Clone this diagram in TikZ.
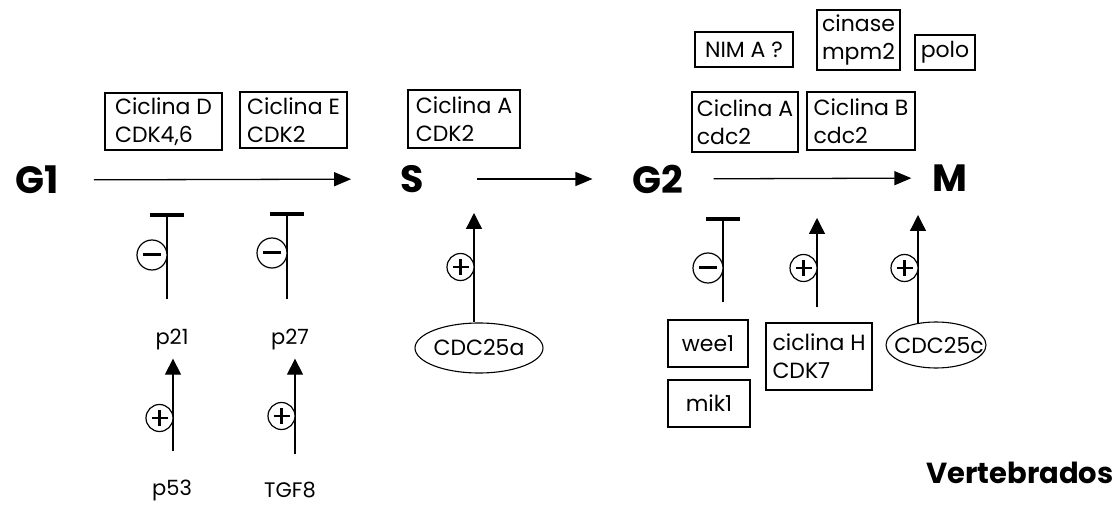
\documentclass[tikz,border=0pt]{standalone}
\usepackage{fontspec}
\setmainfont{Poppins}
\usepackage{tikz}
\usetikzlibrary{arrows.meta, shapes.geometric, positioning, calc}

\tikzset{
  phase/.style={font=\bfseries\fontsize{38}{38}\selectfont, inner sep=0pt},
  factor/.style={draw, line width=1.1pt, align=left, inner sep=2pt,
    font=\fontsize{22}{28}\selectfont},
  oval/.style={inner sep=0pt, font=\fontsize{22}{22}\selectfont},
  gene/.style={font=\fontsize{21}{21}\selectfont, inner sep=0pt},
  flow/.style={line width=1.3pt, -{Triangle[length=17pt,width=14pt]}},
  activ/.style={line width=1.3pt, -{Triangle[length=16pt,width=16pt]}},
  inhib/.style={line width=1.3pt, -{Bar[width=34pt,line width=4pt]}},
  possign/.pic={
    \draw[line width=1.2pt, fill=white] (0,0) circle (13.5);
    \draw[line width=2.6pt] (-8,0) -- (8,0) (0,-8) -- (0,8);
  },
  negsign/.pic={
    \draw[line width=1.2pt, fill=white] (0,0) circle (15);
    \draw[line width=3pt] (-9,0) -- (9,0);
  }
}

\begin{document}
\begin{tikzpicture}[x=1pt, y=-1pt]
  \useasboundingbox (0,0) rectangle (1119,510);

  % Cycle phases
  \node[phase] (G1) at (37,180) {G1};
  \node[phase] (S)  at (412,179) {S};
  \node[phase] (G2) at (658,179) {G2};
  \node[phase] (M)  at (950,178) {M};

  \draw[flow, shorten <=35pt, shorten >=49pt] (G1) -- (S);
  \draw[flow, shorten <=53pt, shorten >=40pt] (S) -- (G2);
  \draw[flow, shorten <=30pt, shorten >=21pt] (G2) -- (M);

  % Cyclin / kinase complexes above
  \node[factor, minimum width=117pt, minimum height=57pt] (cycD)  at (163.5,121.5) {Ciclina D\\CDK4,6};
  \node[factor, minimum width=107pt, minimum height=56pt] (cycE)  at (293.5,120)   {Ciclina E\\CDK2};
  \node[factor, minimum width=112pt, minimum height=58pt] (cycAS) at (464,119)     {Ciclina A\\CDK2};
  \node[factor, minimum width=98pt,  minimum height=35pt] (nima)  at (744,49.5)    {NIM A ?};
  \node[factor, minimum width=83pt,  minimum height=60pt] (mpm)   at (858.5,40)    {cinase\\mpm2};
  \node[factor, minimum width=60pt,  minimum height=35pt] (polo)  at (945,52.5)    {polo};
  \node[factor, minimum width=106pt, minimum height=60pt] (cycAc) at (745,122)     {Ciclina A\\cdc2};
  \node[factor, minimum width=108pt, minimum height=58pt] (cycBc) at (861,121)     {Ciclina B\\cdc2};

  % G1 inhibitors
  \node[gene] (p21)  at (172,340) {p21};
  \node[gene] (p27)  at (290,340) {p27};
  \node[gene] (p53)  at (172,490) {p53};
  \node[gene] (tgf)  at (290,490) {TGF8};

  \coordinate (t21) at (167,213);
  \coordinate (t27) at (287,212);
  \draw[inhib] ([xshift=-5pt,yshift=30pt]p21.north) -- (t21);
  \draw[inhib] ([xshift=-3pt,yshift=30pt]p27.north) -- (t27);
  \pic at (152,255) {negsign};
  \pic at (272,253) {negsign};

  \draw[activ] ([xshift=1pt,yshift=28pt]p53.north) -- ([xshift=1pt,yshift=-8pt]p21.south);
  \draw[activ] ([xshift=5pt,yshift=28pt]tgf.north) -- ([xshift=5pt,yshift=-8pt]p27.south);
  \pic at (159.5,418) {possign};
  \pic at (281.5,416) {possign};

  % S entry
  \node[oval] (c25a) at (479,348) {CDC25a};
  \draw[line width=1.1pt] (c25a) ellipse (64 and 25);
  \coordinate (tS) at (474,213);
  \draw[activ] ([xshift=-5pt,yshift=18pt]c25a.north) -- (tS);
  \pic at (460.5,267) {possign};

  % G2 / M regulators
  \node[factor, minimum width=80pt, minimum height=47pt, align=center] (wee) at (708,343.5) {wee1};
  \node[factor, minimum width=82pt, minimum height=47pt, align=center] (mik) at (709,403.5) {mik1};
  \node[factor, minimum width=106pt, minimum height=67pt] (cycH) at (819,356.5) {ciclina H\\CDK7};
  \node[oval] (c25c) at (939,346) {CDC25c};
  \draw[line width=1.1pt] (936,345) ellipse (50 and 23);

  \coordinate (tW) at (723,217);
  \coordinate (tH) at (817,218);
  \coordinate (tC) at (918,215);
  \draw[inhib] ([xshift=15pt,yshift=17pt]wee.north) -- (tW);
  \draw[activ] ([yshift=15pt]cycH.north -| tH) -- (tH);
  \draw[activ] ([yshift=15pt]c25c.north -| tC) -- (tC);
  \pic at (708,268) {negsign};
  \pic at (803.5,268) {possign};
  \pic at (904.5,268) {possign};

  \node[font=\bfseries\fontsize{29}{29}\selectfont, inner sep=0pt] (vert) at (1020,473) {Vertebrados};
\end{tikzpicture}
\end{document}
